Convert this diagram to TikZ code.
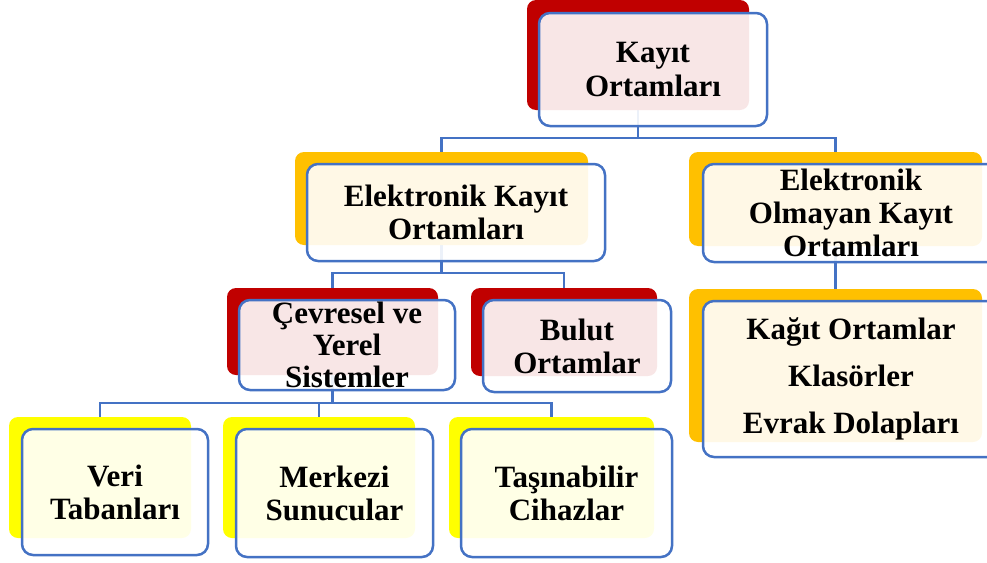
\documentclass[tikz,border=0pt]{standalone}
\usepackage{fontspec}
\setmainfont{Liberation Serif}
\usepackage{tikz}
\usetikzlibrary{positioning,backgrounds}
\definecolor{boxblue}{HTML}{4472C4}
\definecolor{darkred}{HTML}{C00000}
\definecolor{amber}{HTML}{FFC000}
\definecolor{lemon}{HTML}{FFFF00}

\begin{document}
\begin{tikzpicture}
  [
    x=1pt, y=-1pt,
    Back/.style={rectangle, rounded corners=9pt, inner sep=0pt, outer sep=0pt},
    Red/.style={Back, fill=darkred},
    Orange/.style={Back, fill=amber},
    Yellow/.style={Back, fill=lemon},
    Front/.style={rectangle, rounded corners=11pt, draw=boxblue, line width=2.5pt,
      fill=white, fill opacity=0.9, text opacity=1, inner sep=0pt, align=center,
      font=\bfseries\fontsize{31}{33}\selectfont},
    Link/.style={draw=boxblue, line width=2.5pt}
  ]
  \clip (0,0) rectangle (987,562);
  % Nodes
  \node[Red, minimum width=222pt, minimum height=110pt] (kayitB) at(638, 55) {};
  \node[Front, minimum width=228pt, minimum height=113pt,
    font=\bfseries\fontsize{31}{34}\selectfont] (kayit) at(653, 69.5) {Kayıt\\Ortamları};
  \node[Orange, minimum width=293pt, minimum height=93pt] (elkB) at(441.5, 198.5) {};
  \node[Front, minimum width=298pt, minimum height=97pt] (elk) at(456, 212.5) {Elektronik Kayıt\\Ortamları};
  \node[Orange, minimum width=293pt, minimum height=94pt] (olmB) at(835.5, 199) {};
  \node[Front, minimum width=296pt, minimum height=98pt] (olm) at(851, 213) {Elektronik\\Olmayan Kayıt\\Ortamları};
  \node[Orange, minimum width=293pt, minimum height=153pt] (kagitB) at(835.5, 365.5) {};
  \node[Front, minimum width=296pt, minimum height=156pt,
    font=\bfseries\fontsize{31}{47}\selectfont] (kagit) at(851, 379) {Kağıt Ortamlar\\Klasörler\\Evrak Dolapları};
  \node[Red, minimum width=211pt, minimum height=87pt] (cevB) at(332.5, 331.5) {};
  \node[Front, minimum width=216pt, minimum height=90pt,
    font=\bfseries\fontsize{31}{32}\selectfont] (cev) at(347, 345) {Çevresel ve\\Yerel\\Sistemler};
  \node[Red, minimum width=186pt, minimum height=88pt] (bulutB) at(564, 332) {};
  \node[Front, minimum width=188pt, minimum height=92pt] (bulut) at(577, 346) {Bulut\\Ortamlar};
  \node[Yellow, minimum width=182pt, minimum height=121pt] (veriB) at(100, 477.5) {};
  \node[Front, minimum width=186pt, minimum height=126pt] (veri) at(115, 492) {Veri\\Tabanları};
  \node[Yellow, minimum width=192pt, minimum height=121pt] (merkB) at(319, 477.5) {};
  \node[Front, minimum width=197pt, minimum height=128pt] (merk) at(334.5, 493) {Merkezi\\Sunucular};
  \node[Yellow, minimum width=205pt, minimum height=121pt] (tasB) at(551.5, 477.5) {};
  \node[Front, minimum width=211pt, minimum height=128pt] (tas) at(566.5, 493) {Taşınabilir\\Cihazlar};
  % Lines
  \begin{pgfonlayer}{background}
    \path [Link] (kayitB.south) -- (kayitB.south |- 0,138) -| (elkB.north);
    \path [Link] (kayitB.south |- 0,138) -| (olmB.north);
    \path [Link] (olmB.south) -- (kagitB.north);
    \path [Link] (elkB.south) -- (elkB.south |- 0,273) -| (cevB.north);
    \path [Link] (elkB.south |- 0,273) -| (bulutB.north);
    \path [Link] (cevB.south) -- (cevB.south |- 0,403) -| (veriB.north);
    \path [Link] (cevB.south |- 0,403) -| (merkB.north);
    \path [Link] (cevB.south |- 0,403) -| (tasB.north);
  \end{pgfonlayer}
\end{tikzpicture}
\end{document}
